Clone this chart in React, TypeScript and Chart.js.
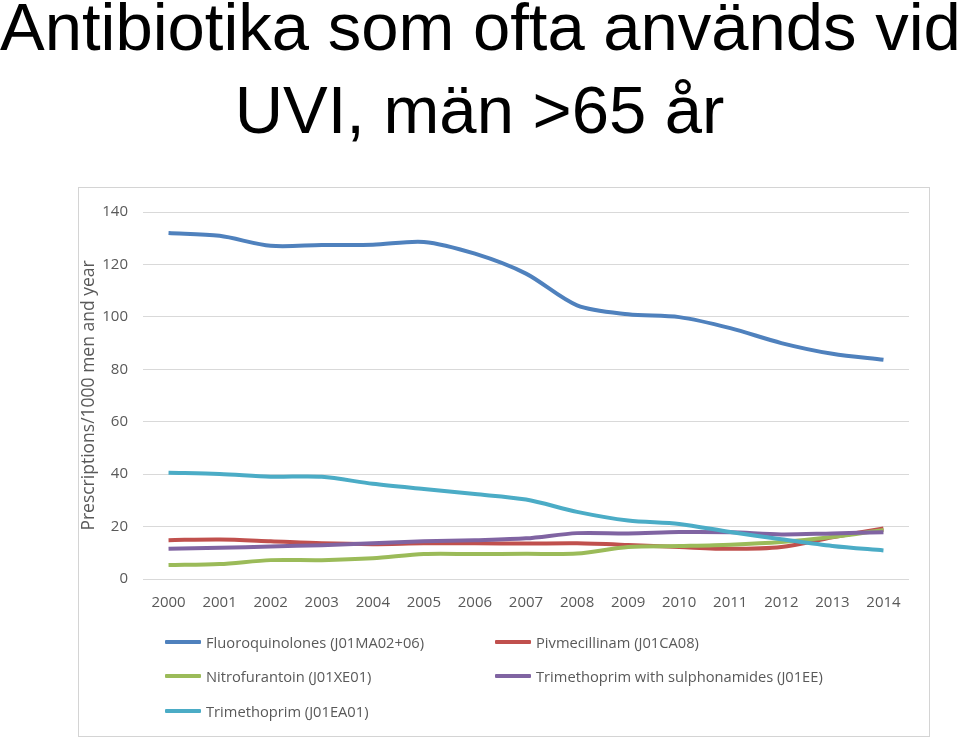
import React, { useEffect, useRef } from "react";
import { Chart, registerables } from "chart.js";

Chart.register(...registerables);

const years = ["2000", "2001", "2002", "2003", "2004", "2005", "2006", "2007", "2008", "2009", "2010", "2011", "2012", "2013", "2014"];
const fluoroquinolones = [132.0, 130.9, 127.1, 127.4, 127.5, 128.6, 124.1, 116.5, 104.4, 101.0, 99.9, 95.7, 90.0, 85.9, 83.6];
const pivmecillinam = [14.8, 15.1, 14.4, 13.6, 13.3, 13.6, 13.6, 13.5, 13.6, 13.0, 12.2, 11.5, 12.2, 15.9, 19.3];
const nitrofurantoin = [5.3, 5.7, 7.2, 7.2, 7.9, 9.5, 9.5, 9.6, 9.7, 12.2, 12.6, 13.1, 14.1, 16.0, 18.7];
const trimethoprimSulfa = [11.5, 11.9, 12.4, 12.9, 13.6, 14.4, 14.8, 15.5, 17.5, 17.4, 17.9, 17.8, 17.0, 17.4, 17.8];
const trimethoprim = [40.5, 40.1, 39.0, 39.0, 36.3, 34.3, 32.4, 30.3, 25.6, 22.3, 21.0, 17.9, 15.2, 12.6, 10.9];

const seriesNames = [
  "Fluoroquinolones (J01MA02+06)",
  "Pivmecillinam (J01CA08)",
  "Nitrofurantoin (J01XE01)",
  "Trimethoprim with sulphonamides (J01EE)",
  "Trimethoprim (J01EA01)",
];
const seriesValues = [fluoroquinolones, pivmecillinam, nitrofurantoin, trimethoprimSulfa, trimethoprim];
const seriesColors = ["#4F81BD", "#C0504D", "#9BBB59", "#8064A2", "#4BACC6"];

const yMin = 0;
const yMax = 140;
const yStep = 20;

const titleLines = ["Antibiotika som ofta används vid", "UVI, män >65 år"];
const yAxisTitle = "Prescriptions/1000 men and year";

const TEXT_COLOR = "#595959";
const FONT = "'Open Sans', 'DejaVu Sans', sans-serif";

export default function App() {
  const canvasRef = useRef<HTMLCanvasElement | null>(null);

  useEffect(() => {
    const canvas = canvasRef.current;
    if (!canvas) return;
    const chart = new Chart(canvas, {
      type: "line",
      data: {
        labels: years,
        datasets: seriesValues.map((vals, i) => ({
          label: seriesNames[i],
          data: vals,
          borderColor: seriesColors[i],
          backgroundColor: seriesColors[i],
          borderWidth: 4,
          pointRadius: 0,
          tension: 0.3,
          fill: false,
          order: seriesValues.length - i,
        })),
      },
      options: {
        animation: false,
        responsive: false,
        maintainAspectRatio: false,
        layout: { padding: { top: 20, right: 20, left: 0, bottom: 117 } },
        plugins: {
          legend: { display: false },
          title: { display: false },
          tooltip: { enabled: false },
        },
        scales: {
          x: {
            offset: true,
            grid: { display: false, drawTicks: false },
            border: { display: false },
            ticks: {
              color: TEXT_COLOR,
              font: { family: FONT, size: 15 },
              padding: 15,
              maxRotation: 0,
              autoSkip: false,
            },
            afterFit: (axis: any) => {
              axis.height = 40;
            },
          },
          y: {
            min: yMin,
            max: yMax,
            grid: { color: "#d9d9d9", lineWidth: 1, drawTicks: false },
            border: { display: false },
            ticks: {
              stepSize: yStep,
              color: TEXT_COLOR,
              font: { family: FONT, size: 15 },
              padding: 15,
            },
            title: {
              display: true,
              text: yAxisTitle,
              color: TEXT_COLOR,
              font: { family: FONT, size: 17.5 },
              padding: { top: 0, bottom: 0 },
            },
            afterFit: (axis: any) => {
              axis.width = 64;
            },
          },
        },
      },
    });
    return () => chart.destroy();
  }, []);

  const legendRows = [
    [0, 1],
    [2, 3],
    [4],
  ];
  const rowY = [642, 676, 711];
  const colX = [165, 495];

  return (
    <div
      style={{
        position: "absolute",
        left: 0,
        top: 0,
        width: 959,
        height: 740,
        background: "#ffffff",
        overflow: "hidden",
      }}
    >
      {titleLines.map((line, i) => (
        <div
          key={i}
          style={{
            position: "absolute",
            left: 0,
            width: 959,
            top: -15 + i * 83,
            height: 83,
            lineHeight: "83px",
            textAlign: "center",
            fontFamily: "'Liberation Sans', Arial, sans-serif",
            fontSize: 67,
            color: "#000000",
            whiteSpace: "nowrap",
          }}
        >
          {line}
        </div>
      ))}
      <div
        style={{
          position: "absolute",
          left: 78,
          top: 187,
          width: 850,
          height: 548,
          border: "1px solid #d4d4d4",
          background: "#ffffff",
        }}
      >
        <canvas ref={canvasRef} width={850} height={548} style={{ display: "block", width: 850, height: 548 }} />
      </div>
      {legendRows.map((row, r) =>
        row.map((idx, c) => (
          <div
            key={`${r}-${c}`}
            style={{
              position: "absolute",
              left: colX[c],
              top: rowY[r] - 11,
              height: 22,
              display: "flex",
              alignItems: "center",
              fontFamily: FONT,
              fontSize: 14.7,
              color: TEXT_COLOR,
              whiteSpace: "nowrap",
            }}
          >
            <span
              style={{
                display: "inline-block",
                width: 36,
                height: 4,
                background: seriesColors[idx],
                marginRight: 5,
                borderRadius: 1,
              }}
            />
            <span>{seriesNames[idx]}</span>
          </div>
        ))
      )}
    </div>
  );
}
